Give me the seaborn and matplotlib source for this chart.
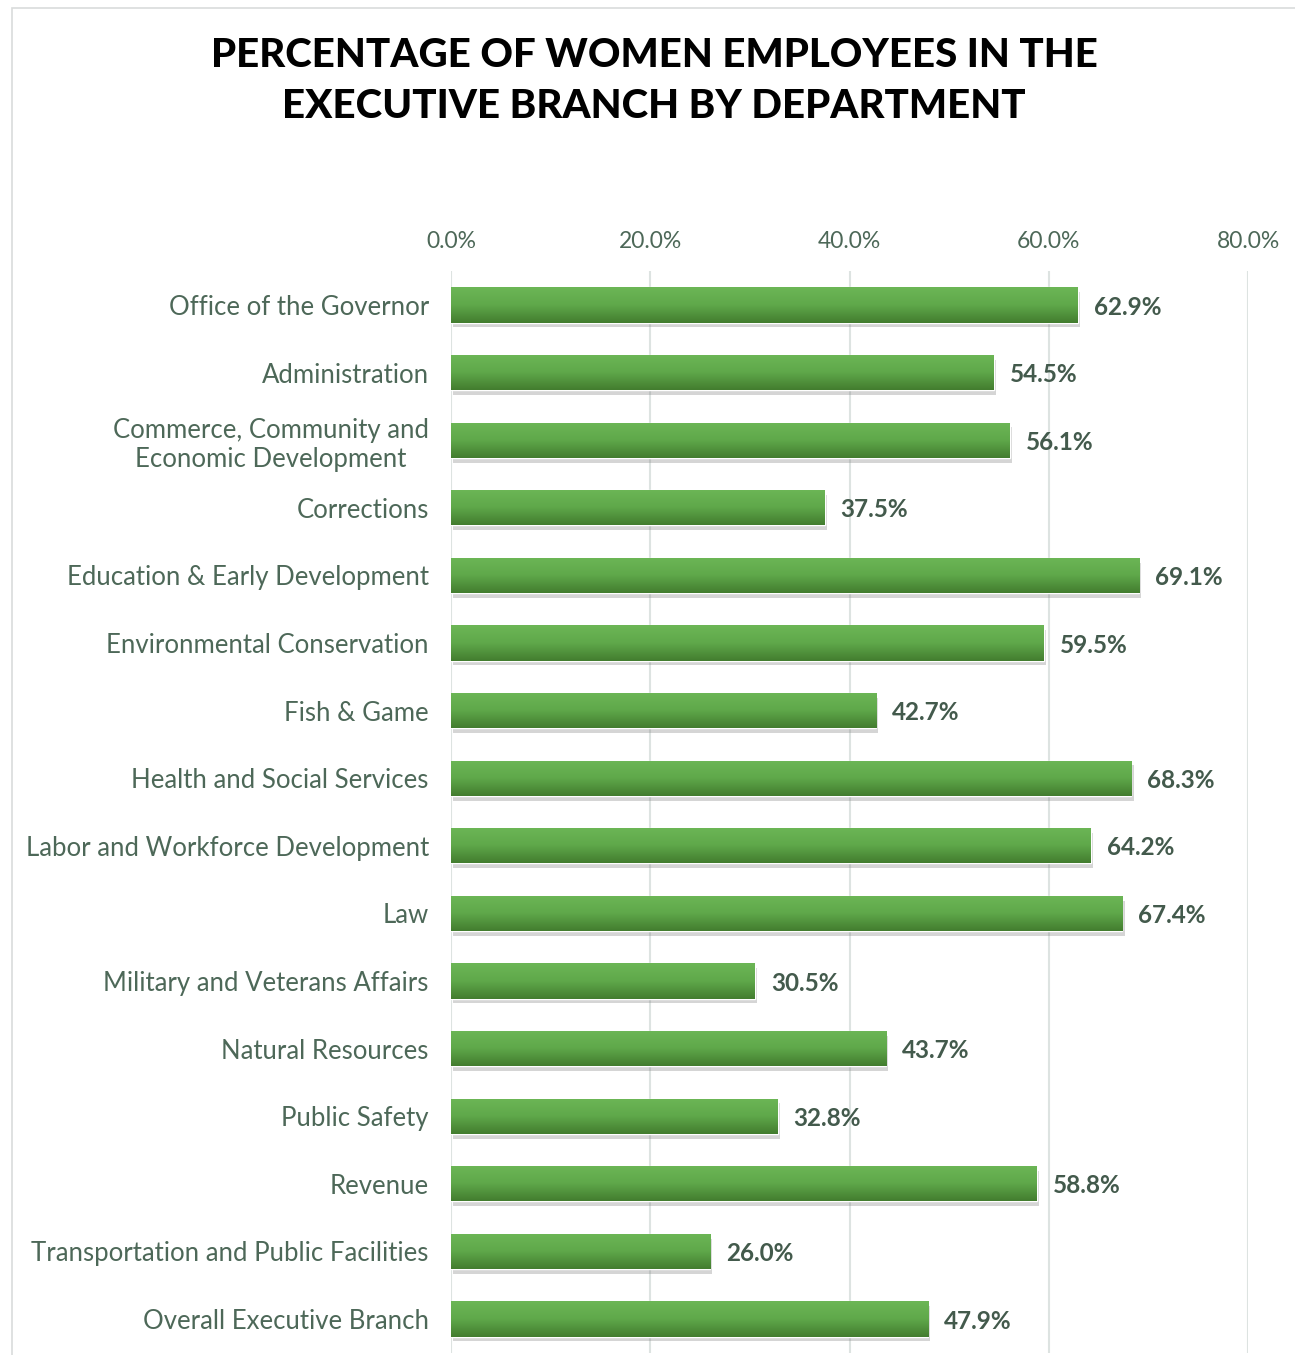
import numpy as np
import pandas as pd
import seaborn as sns
import matplotlib.pyplot as plt
import matplotlib.patheffects as pe
from matplotlib.colors import LinearSegmentedColormap
from matplotlib.patches import Rectangle

departments = [
    "Office of the Governor",
    "Administration",
    "Commerce, Community and\nEconomic Development",
    "Corrections",
    "Education & Early Development",
    "Environmental Conservation",
    "Fish & Game",
    "Health and Social Services",
    "Labor and Workforce Development",
    "Law",
    "Military and Veterans Affairs",
    "Natural Resources",
    "Public Safety",
    "Revenue",
    "Transportation and Public Facilities",
    "Overall Executive Branch",
]
pct_women = [62.9, 54.5, 56.1, 37.5, 69.1, 59.5, 42.7, 68.3, 64.2, 67.4,
             30.5, 43.7, 32.8, 58.8, 26.0, 47.9]
x_ticks = [0, 20, 40, 60, 80]

df = pd.DataFrame({"dept": departments, "pct": pct_women})

sns.set_theme(style="white")
plt.rcParams["font.family"] = ["Lato", "DejaVu Sans"]

label_color = "#4d6858"
value_color = "#435a4c"
grid_color = "#dde3e1"

fig = plt.figure(figsize=(12.95, 13.55), dpi=100)
ax = fig.add_axes([451 / 1295, 1 - 1352.8 / 1355, (1248 - 451) / 1295, (1352.8 - 271.2) / 1355])

sns.barplot(data=df, x="pct", y="dept", color="#5a9e44", width=0.52,
            orient="h", ax=ax, zorder=3)

# gradient fill + soft drop shadow on each bar
cmap = LinearSegmentedColormap.from_list("bar", ["#6cb656", "#5fa84a", "#437d2f"])
grad = np.linspace(0, 1, 64).reshape(-1, 1)
for patch in ax.patches:
    x0, y0 = patch.get_x(), patch.get_y()
    w, h = patch.get_width(), patch.get_height()
    patch.set_path_effects([
        pe.SimplePatchShadow(offset=(1.5, -3.5), shadow_rgbFace="#777777", alpha=0.3),
        pe.Normal(),
    ])
    im = ax.imshow(grad, cmap=cmap, aspect="auto", origin="upper",
                   extent=(x0, x0 + w, y0 + h, y0), zorder=4, interpolation="bicubic")
    im.set_clip_path(patch)
    ax.text(x0 + w + 1.6, y0 + h / 2 + 0.03, f"{w:.1f}%", va="center", ha="left",
            fontsize=17.5, fontweight="bold", color=value_color, zorder=5)

ax.set_xlim(0, 80)
ax.set_ylim(len(departments) - 0.5, -0.5)

ax.xaxis.tick_top()
ax.set_xticks(x_ticks)
ax.set_xticklabels([f"{t:.1f}%" for t in x_ticks], fontsize=16.5, color=label_color)
ax.tick_params(axis="x", length=0, pad=14)
ax.tick_params(axis="y", length=0, pad=16, labelsize=18.5, labelcolor=label_color)
for lab in ax.get_yticklabels():
    lab.set_multialignment("center")

ax.set_xlabel("")
ax.set_ylabel("")
ax.grid(axis="x", color=grid_color, linewidth=1.5, zorder=0)
ax.grid(axis="y", visible=False)
for s in ax.spines.values():
    s.set_visible(False)

# title
fig.text(654 / 1295, 1 - 81 / 1355, "PERCENTAGE OF WOMEN EMPLOYEES IN THE\nEXECUTIVE BRANCH BY DEPARTMENT",
         ha="center", va="center", fontsize=29, fontweight="black", color="black",
         linespacing=1.45)

# light chart-area border
fig.patches.append(Rectangle((12 / 1295, -0.01), 1.1, 1 - 8 / 1355 + 0.01,
                             transform=fig.transFigure, fill=False,
                             edgecolor="#d9dcdb", linewidth=1.2))

fig.savefig("out.png", dpi=100)
